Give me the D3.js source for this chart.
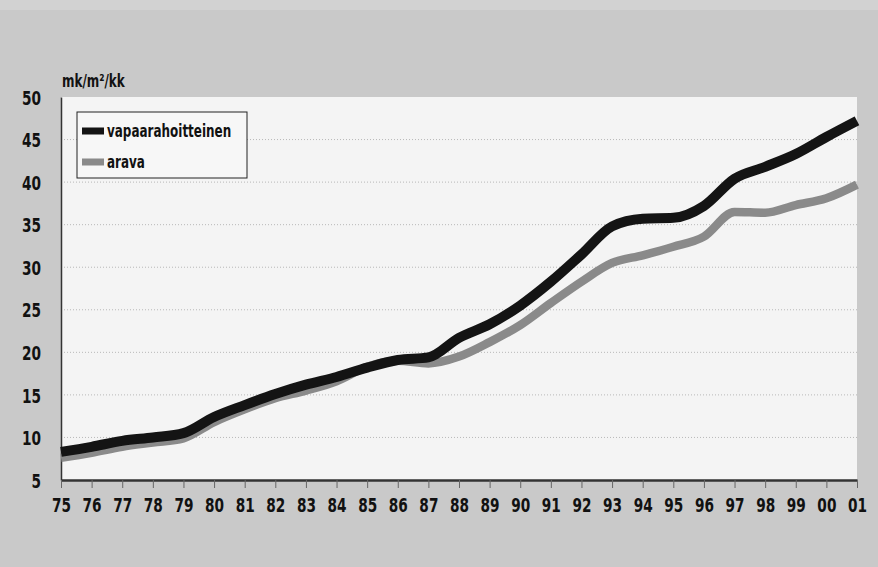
<!DOCTYPE html>
<html>
<head>
<meta charset="utf-8">
<script src="https://cdn.jsdelivr.net/npm/d3@7"></script>
<style>
  html, body { margin: 0; padding: 0; background: #c9c9c9; }
  svg { display: block; }
  text { font-family: "DejaVu Sans Condensed", "DejaVu Sans", sans-serif; font-weight: bold; fill: #111; }
</style>
</head>
<body>
<svg id="chart" width="878" height="567"></svg>
<script>
const years = ["75","76","77","78","79","80","81","82","83","84","85","86","87","88","89","90","91","92","93","94","95","96","97","98","99","00","01"];
const vapaarahoitteinen = [8.3, 8.9, 9.6, 10.0, 10.5, 12.4, 13.8, 15.1, 16.2, 17.1, 18.2, 19.1, 19.4, 21.7, 23.3, 25.5, 28.3, 31.5, 34.8, 35.7, 35.8, 37.2, 40.4, 41.8, 43.3, 45.3, 47.2];
const arava = [7.6, 8.2, 8.9, 9.4, 9.9, 11.8, 13.3, 14.6, 15.5, 16.6, 18.3, 19.0, 18.7, 19.5, 21.2, 23.2, 25.8, 28.3, 30.5, 31.4, 32.4, 33.6, 36.5, 36.4, 37.3, 38.1, 39.7];
const yTicks = [5, 10, 15, 20, 25, 30, 35, 40, 45, 50];
const unitLabel = "mk/m²/kk";
const seriesNames = ["vapaarahoitteinen", "arava"];

const svg = d3.select("#chart");
const W = 878, H = 567;
const m = { left: 61, right: 21, top: 97, bottom: 87 };
const K = 0.76; // horizontal condensing of the bold face

function condense(sel) {
  sel.each(function () {
    const len = this.getComputedTextLength();
    d3.select(this).attr("textLength", len * K).attr("lengthAdjust", "spacingAndGlyphs");
  });
}

svg.append("rect").attr("x", 0).attr("y", 0).attr("width", W).attr("height", H).attr("fill", "#c9c9c9");
svg.append("rect").attr("x", 0).attr("y", 0).attr("width", W).attr("height", 10).attr("fill", "#d2d2d2");

const x = d3.scalePoint().domain(years).range([m.left, W - m.right]);
const y = d3.scaleLinear().domain([5, 50]).range([H - m.bottom, m.top]);

// plot area
svg.append("rect")
  .attr("x", m.left).attr("y", m.top)
  .attr("width", W - m.right - m.left).attr("height", H - m.bottom - m.top)
  .attr("fill", "#f4f4f4");

// gridlines
svg.append("g").selectAll("line").data(yTicks.filter(d => d > 5 && d < 50)).join("line")
  .attr("x1", m.left).attr("x2", W - m.right)
  .attr("y1", d => y(d)).attr("y2", d => y(d))
  .attr("stroke", "#b8b8b8").attr("stroke-width", 1).attr("stroke-dasharray", "1,2");

// y axis
const yAxis = svg.append("g").attr("transform", `translate(${m.left},0)`)
  .call(d3.axisLeft(y).tickValues(yTicks).tickSize(0).tickPadding(20));
yAxis.select(".domain").attr("stroke", "#333").attr("stroke-width", 1.5);
yAxis.selectAll("text").style("font-size", "20px").attr("fill", "#111").attr("dy", "0.36em").call(condense);

// x axis
const xAxis = svg.append("g").attr("transform", `translate(0,${H - m.bottom})`)
  .call(d3.axisBottom(x).tickSize(8).tickPadding(10).tickSizeOuter(0));
xAxis.select(".domain").attr("stroke", "#333").attr("stroke-width", 2.5);
xAxis.selectAll(".tick line").attr("stroke", "#666").attr("stroke-width", 1);
xAxis.selectAll("text").style("font-size", "20px").attr("fill", "#111").call(condense);

// unit label
svg.append("text").attr("x", 62).attr("y", 87).style("font-size", "17.5px").text(unitLabel).call(condense);

// lines
const line = d3.line().x((d, i) => x(years[i])).y(d => y(d)).curve(d3.curveMonotoneX);
svg.append("path").datum(arava).attr("d", line)
  .attr("fill", "none").attr("stroke", "#8a8a8a").attr("stroke-width", 8.5).attr("stroke-linecap", "butt");
svg.append("path").datum(vapaarahoitteinen).attr("d", line)
  .attr("fill", "none").attr("stroke", "#141414").attr("stroke-width", 10).attr("stroke-linecap", "butt");

// legend
const lg = svg.append("g");
lg.append("rect").attr("x", 77).attr("y", 112).attr("width", 170).attr("height", 66)
  .attr("fill", "#f7f7f7").attr("stroke", "#222").attr("stroke-width", 1);
const colors = ["#141414", "#8a8a8a"];
seriesNames.forEach((n, i) => {
  const cy = 131 + i * 31;
  lg.append("rect").attr("x", 82).attr("y", cy - 3.5).attr("width", 22).attr("height", 7).attr("fill", colors[i]);
  lg.append("text").attr("x", 107).attr("y", cy + 6).style("font-size", "17.5px").text(n).call(condense);
});
</script>
</body>
</html>
